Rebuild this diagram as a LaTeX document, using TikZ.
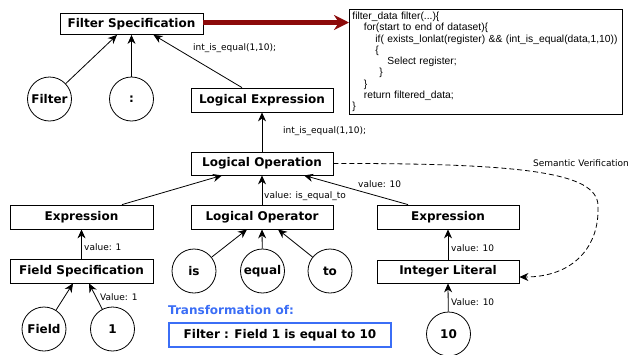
\documentclass[tikz,border=0pt]{standalone}
\usepackage{fontspec}
\setmainfont{DejaVu Sans}
\newfontfamily\codefont{Liberation Sans}
\usetikzlibrary{arrows.meta}
\definecolor{darkred}{RGB}{140,10,10}
\definecolor{tblue}{RGB}{59,110,246}
\begin{document}
\begin{tikzpicture}[x=1pt,y=-1pt,
  box/.style={draw, line width=0.8pt, minimum width=142pt, minimum height=24pt, inner sep=0pt, font=\fontsize{12}{14}\selectfont\bfseries},
  circ/.style={circle, draw, line width=0.8pt, minimum size=44pt, inner sep=0pt, font=\fontsize{12}{14}\selectfont\bfseries},
  arr/.style={-{Stealth[length=9pt,width=8pt]}, line width=0.8pt},
  lbl/.style={font=\fontsize{9}{11}\selectfont, inner sep=0pt, anchor=west},
  codebox/.style={draw, line width=0.8pt, anchor=north west, minimum width=273pt, minimum height=105pt, inner xsep=3pt, inner ysep=2pt, text width=267pt, align=left, font=\codefont\fontsize{10.3}{11.25}\selectfont},
]
\fill[white] (0,0) rectangle (629,354);
\useasboundingbox (0,0) rectangle (629,354);

% boxes
\node[box, minimum width=143pt, minimum height=21pt] (FS) at (131.5,24) {Filter Specification};
\node[box] (LE) at (262,100) {Logical Expression};
\node[box, minimum height=23pt] (LO) at (262,163.5) {Logical Operation};
\node[box, minimum width=143pt] (ExpL) at (81.5,217) {Expression};
\node[box] (LOp) at (262,217) {Logical Operator};
\node[box] (ExpR) at (448,217) {Expression};
\node[box, minimum width=143pt] (FSpec) at (81.5,271) {Field Specification};
\node[box, minimum height=23pt] (IL) at (448,271.5) {Integer Literal};

% circles
\node[circ] (Filter) at (49.5,99) {Filter};
\node[circ] (Colon) at (131.5,99) {:};
\node[circ] (is) at (194,271) {is};
\node[circ] (equal) at (262.5,271) {equal};
\node[circ] (to) at (330,271) {to};
\node[circ] (Field) at (44,329) {Field};
\node[circ] (one) at (112.5,329) {1};
\node[circ] (ten) at (448.5,334) {10};

% code box
\node[codebox] (code) at (349,9) {filter\_data filter(...)\{\\
\hspace*{11.5pt}for(start to end of dataset)\{\\
\hspace*{23pt}if( exists\_lonlat(register) \&\& (int\_is\_equal(data,1,10))\\
\hspace*{23pt}\{\\
\hspace*{35pt}Select register;\\
\hspace*{27pt}\}\\
\hspace*{11.5pt}\}\\
\hspace*{11.5pt}return filtered\_data;\\
\}};

% red arrow
\draw[darkred, line width=5pt, -{Stealth[length=15pt,width=15pt]}] ([yshift=1.5pt]FS.east) -- ([yshift=1.5pt]FS.east -| code.west);

% arrows
\draw[arr] (Filter) -- ([xshift=-14.5pt]FS.south);
\draw[arr] (Colon) -- (FS.south);
\draw[arr] ([xshift=-20pt]LE.north) -- ([xshift=22pt]FS.south);
\draw[arr] (LO.north) -- (LE.south);
\draw[arr] ([xshift=40.5pt]ExpL.north) -- ([xshift=-40pt]LO.south);
\draw[arr] (LOp.north) -- (LO.south);
\draw[arr] ([xshift=-40pt]ExpR.north) -- ([xshift=42pt]LO.south);
\draw[arr] (FSpec.north) -- (ExpL.south);
\draw[arr] (is) -- ([xshift=-15pt]LOp.south);
\draw[arr] (equal) -- (LOp.south);
\draw[arr] (to) -- ([xshift=16pt]LOp.south);
\draw[arr] (IL.north) -- (ExpR.south);
\draw[arr] (Field) -- ([xshift=-8.5pt]FSpec.south);
\draw[arr] (one) -- ([xshift=7.5pt]FSpec.south);
\draw[arr] (ten) -- (IL.south);

% semantic verification
\draw[arr, dash pattern=on 5pt off 3pt] (LO.east) .. controls (540,163) and (600,175) .. (598,208) .. controls (599,245) and (575,277) .. ([yshift=-5.5pt]IL.east);
\node[lbl, anchor=base west] (sv) at (533,166.5) {Semantic Verification};

% labels
\node[lbl] (l1) at (193,48.5) {int\_is\_equal(1,10);};
\node[lbl] (l2) at (283,131) {int\_is\_equal(1,10);};
\node[lbl] (l3) at (264,196) {value: is\_equal\_to};
\node[lbl] (l4) at (358,184) {value: 10};
\node[lbl] (l5) at (84,247) {value: 1};
\node[lbl] (l6) at (451,248) {value: 10};
\node[lbl] (l7) at (100,297) {Value: 1};
\node[lbl] (l8) at (451,302) {Value: 10};

% transformation
\node[anchor=west, inner sep=0pt, text=tblue, font=\fontsize{12}{14}\selectfont\bfseries] (tr) at (168,310) {Transformation of:};
\node[draw=tblue, line width=2pt, minimum width=222pt, minimum height=24pt, inner sep=0pt, font=\fontsize{12}{14}\selectfont\bfseries] (tbox) at (280,335) {Filter : Field 1 is equal to 10};
\end{tikzpicture}
\end{document}
